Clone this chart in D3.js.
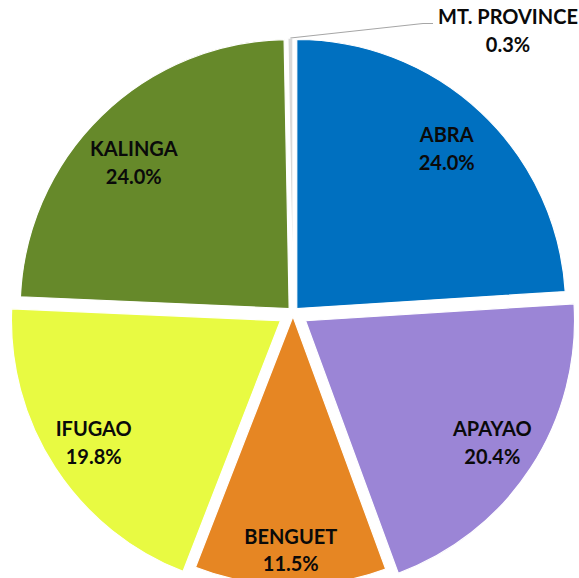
<!DOCTYPE html>
<html>
<head>
  <meta http-equiv="Content-Type" content="text/html; charset=UTF-8">
  <style>
    body { margin: 0; background: #fff; }
    .slice { stroke: #fff; stroke-width: 1.2px; }
    .label { font-family: Lato, "Open Sans", sans-serif; font-weight: bold; font-size: 20px; fill: #0a0a0a; text-anchor: middle; }
    .leader { fill: none; stroke: #a6a6a6; stroke-width: 1.2px; }
  </style>
</head>
<body>
  <svg width="579" height="578"></svg>
  <script src="https://cdn.jsdelivr.net/npm/d3@7"></script>
  <script>
    // data, clockwise from 12 o'clock
    var provinces = ["ABRA", "APAYAO", "BENGUET", "IFUGAO", "KALINGA", "MT. PROVINCE"];
    var shares = [24.0, 20.4, 11.5, 19.8, 24.0, 0.3];

    var svg = d3.select("svg"),
        cx = 293, cy = 312.5,
        radius = 269;

    var color = d3.scaleOrdinal()
        .domain(provinces)
        .range(["#0070c0", "#9b85d6", "#e68623", "#e8fa42", "#66892a", "#d9d9d9"]);

    // how far each slice is pulled out, and where its label sits (distance from the slice tip, angle nudge in deg)
    var explode = {"ABRA": 5.5, "APAYAO": 15, "BENGUET": 4, "IFUGAO": 15, "KALINGA": 5.5, "MT. PROVINCE": 5.5};
    var labelR = {"ABRA": 219, "APAYAO": 223, "BENGUET": 234, "IFUGAO": 223, "KALINGA": 213};
    var labelNudge = {"KALINGA": -2.5};

    var rows = provinces.map(function(p, i) { return {name: p, value: shares[i]}; });

    var pie = d3.pie()
        .sort(null)
        .value(function(d) { return d.value; });

    var arc = d3.arc()
        .innerRadius(0)
        .outerRadius(radius);

    var arcs = pie(rows);

    function mid(d) { return (d.startAngle + d.endAngle) / 2; }
    function polar(a, r) { return [Math.sin(a) * r, -Math.cos(a) * r]; }

    var g = svg.append("g")
        .attr("transform", "translate(" + cx + "," + cy + ")");

    g.selectAll(".slice")
      .data(arcs)
      .enter().append("path")
        .attr("class", "slice")
        .attr("fill", function(d) { return color(d.data.name); })
        .attr("transform", function(d) {
          var o = polar(mid(d), explode[d.data.name]);
          return "translate(" + o[0] + "," + o[1] + ")";
        })
        .attr("d", arc);

    // labels inside the big slices
    var inside = arcs.filter(function(d) { return labelR[d.data.name]; });

    var lab = g.selectAll(".lab")
      .data(inside)
      .enter().append("text")
        .attr("class", "label")
        .attr("transform", function(d) {
          var a = mid(d) + (labelNudge[d.data.name] || 0) * Math.PI / 180,
              o = polar(a, explode[d.data.name] + labelR[d.data.name]);
          return "translate(" + o[0] + "," + o[1] + ")";
        });
    lab.append("tspan").attr("x", 0).attr("y", -6.5).text(function(d) { return d.data.name; });
    lab.append("tspan").attr("x", 0).attr("y", 21).text(function(d) { return d3.format(".1f")(d.data.value) + "%"; });

    // the tiny slice gets an outside label with a leader line
    var small = arcs.filter(function(d) { return !labelR[d.data.name]; });
    var tx = 508, ty = 24; // label anchor in page coords

    small.forEach(function(d) {
      var a = mid(d),
          o = polar(a, explode[d.data.name] + radius),
          p0 = [cx + o[0], cy + o[1]];
      svg.append("path")
          .attr("class", "leader")
          .attr("d", d3.line()([p0, [tx - 85, ty - 0.5], [tx - 75, ty - 0.5]]));
      var t = svg.append("text")
          .attr("class", "label")
          .attr("transform", "translate(" + tx + "," + ty + ")");
      t.append("tspan").attr("x", 0).attr("y", 0).text(d.data.name);
      t.append("tspan").attr("x", 0).attr("y", 28).text(d3.format(".1f")(d.data.value) + "%");
    });
  </script>
</body>
</html>
